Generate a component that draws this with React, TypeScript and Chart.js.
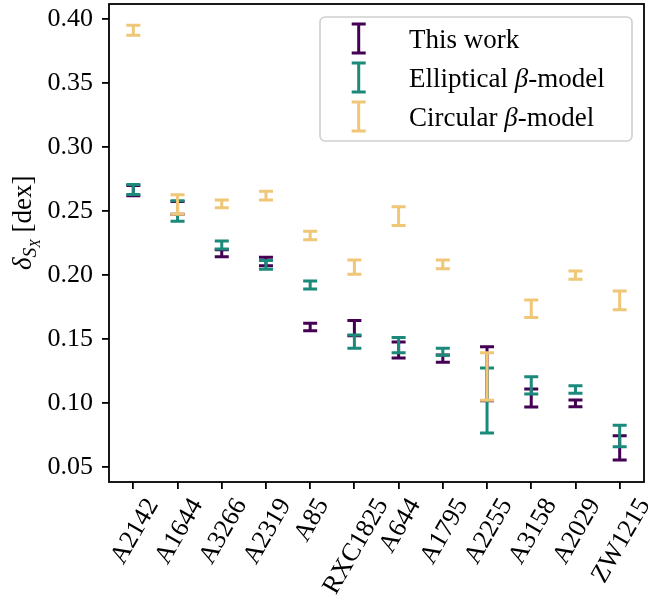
import { useEffect, useRef } from "react";
import { Chart, registerables } from "chart.js";

Chart.register(...registerables);

// ---------- data ----------
const clusters = ["A2142", "A1644", "A3266", "A2319", "A85", "RXC1825", "A644", "A1795", "A2255", "A3158", "A2029", "ZW1215"];

const thisWork = [0.266, 0.2525, 0.217, 0.2105, 0.1594, 0.1585, 0.1414, 0.1347, 0.1229, 0.1039, 0.0997, 0.065];
const thisWorkErr = [0.004, 0.005, 0.0027, 0.0033, 0.003, 0.006, 0.0063, 0.0028, 0.0211, 0.007, 0.0026, 0.0095];

const elliptical = [0.2668, 0.25, 0.2234, 0.2079, 0.1922, 0.148, 0.1452, 0.14, 0.102, 0.1138, 0.1105, 0.0742];
const ellipticalErr = [0.0039, 0.008, 0.0031, 0.0034, 0.0031, 0.0052, 0.0059, 0.0027, 0.0254, 0.0068, 0.0029, 0.0084];

const circular = [0.3912, 0.255, 0.2556, 0.262, 0.2308, 0.2061, 0.246, 0.2083, 0.1207, 0.1736, 0.1999, 0.1802];
const circularErr = [0.0039, 0.0076, 0.003, 0.0035, 0.0033, 0.0056, 0.0074, 0.0034, 0.0186, 0.0069, 0.0033, 0.0073];

const yTicks = [0.05, 0.1, 0.15, 0.2, 0.25, 0.3, 0.35, 0.4];
const seriesNames = ["This work", "Elliptical β-model", "Circular β-model"];
const seriesColors = ["#440154", "#1b8a7a", "#f0c677"];

const FONT = "'Liberation Serif', 'Times New Roman', serif";

function buildDatasets() {
  const vals = [thisWork, elliptical, circular];
  const errs = [thisWorkErr, ellipticalErr, circularErr];
  return vals.map((v, si) => ({
    label: seriesNames[si],
    data: v.map((y, i) => ({ x: i, y })),
    errors: errs[si],
    borderColor: seriesColors[si],
    backgroundColor: seriesColors[si],
    pointRadius: 0,
    showLine: false,
  }));
}

const errorBarPlugin = {
  id: "errorbars",
  afterDatasetsDraw(chart: any) {
    const { ctx, scales } = chart;
    const x = scales.x;
    const y = scales.y;
    const capHalf = 7;
    chart.data.datasets.forEach((ds: any) => {
      ctx.save();
      ctx.strokeStyle = ds.borderColor;
      ctx.lineWidth = 3;
      ctx.lineCap = "butt";
      ds.data.forEach((p: any, i: number) => {
        const e = ds.errors[i];
        const px = x.getPixelForValue(p.x);
        const top = y.getPixelForValue(p.y + e);
        const bot = y.getPixelForValue(p.y - e);
        ctx.beginPath();
        ctx.moveTo(px, top);
        ctx.lineTo(px, bot);
        ctx.moveTo(px - capHalf, top);
        ctx.lineTo(px + capHalf, top);
        ctx.moveTo(px - capHalf, bot);
        ctx.lineTo(px + capHalf, bot);
        ctx.stroke();
      });
      ctx.restore();
    });
  },
  afterDraw(chart: any) {
    const { ctx, chartArea, scales } = chart;
    const x = scales.x;
    ctx.save();
    // frame
    ctx.strokeStyle = "#000";
    ctx.lineWidth = 1.8;
    ctx.strokeRect(chartArea.left, chartArea.top, chartArea.right - chartArea.left, chartArea.bottom - chartArea.top);

    // x tick labels, rotated 60 deg, centered
    const fs = 26;
    ctx.font = `${fs}px ${FONT}`;
    ctx.fillStyle = "#000";
    ctx.textAlign = "center";
    ctx.textBaseline = "middle";
    const ang = (60 * Math.PI) / 180;
    const topY = chartArea.bottom + 7 + 7;
    clusters.forEach((lab, i) => {
      const w = ctx.measureText(lab).width;
      const h = fs * 0.68;
      const H = w * Math.sin(ang) + h * Math.cos(ang);
      const cx = x.getPixelForValue(i) + 1;
      const cy = topY + H / 2;
      ctx.save();
      ctx.translate(cx, cy);
      ctx.rotate(-ang);
      ctx.fillText(lab, 0, h * 0.05);
      ctx.restore();
    });

    // y axis label: delta_{S_X} [dex]
    ctx.save();
    const lfs = 27;
    ctx.textAlign = "left";
    ctx.textBaseline = "alphabetic";
    const parts = [
      { t: "δ", f: `italic ${lfs}px ${FONT}`, dy: 0 },
      { t: "S", f: `italic ${lfs * 0.72}px ${FONT}`, dy: 5 },
      { t: "X", f: `italic ${lfs * 0.52}px ${FONT}`, dy: 9 },
      { t: " [dex]", f: `${lfs}px ${FONT}`, dy: 0 },
    ];
    ctx.translate(31, 270);
    ctx.rotate(-Math.PI / 2);
    let off = 0;
    parts.forEach((p) => {
      ctx.font = p.f;
      ctx.fillText(p.t, off, p.dy);
      off += ctx.measureText(p.t).width;
    });
    ctx.restore();

    // legend
    const lx = 320, ly = 17, lw = 312, lh = 124;
    ctx.beginPath();
    ctx.roundRect(lx, ly, lw, lh, 5);
    ctx.fillStyle = "rgba(255,255,255,0.8)";
    ctx.fill();
    ctx.strokeStyle = "#d0d0d0";
    ctx.lineWidth = 1.6;
    ctx.stroke();
    const rows = [38.5, 77.5, 116.5];
    const iconX = 358.7;
    const textX = 409;
    const legFs = 27;
    rows.forEach((ry, si) => {
      ctx.strokeStyle = seriesColors[si];
      ctx.lineWidth = 3;
      ctx.beginPath();
      ctx.moveTo(iconX, ry - 14.5);
      ctx.lineTo(iconX, ry + 14.5);
      ctx.moveTo(iconX - 7, ry - 14.5);
      ctx.lineTo(iconX + 7, ry - 14.5);
      ctx.moveTo(iconX - 7, ry + 14.5);
      ctx.lineTo(iconX + 7, ry + 14.5);
      ctx.stroke();
      ctx.fillStyle = "#000";
      ctx.textBaseline = "alphabetic";
      ctx.textAlign = "left";
      const name = seriesNames[si];
      const bi = name.indexOf("β");
      const base = ry + 9.5;
      if (bi < 0) {
        ctx.font = `${legFs}px ${FONT}`;
        ctx.fillText(name, textX, base);
      } else {
        const segs = [
          { t: name.slice(0, bi), f: `${legFs}px ${FONT}` },
          { t: "β", f: `italic ${legFs}px ${FONT}` },
          { t: name.slice(bi + 1), f: `${legFs}px ${FONT}` },
        ];
        let ox = textX;
        segs.forEach((s) => {
          ctx.font = s.f;
          ctx.fillText(s.t, ox, base);
          ox += ctx.measureText(s.t).width;
        });
      }
    });
    ctx.restore();
  },
};

export default function App() {
  const ref = useRef<HTMLCanvasElement | null>(null);
  useEffect(() => {
    if (!ref.current) return;
    const chart = new Chart(ref.current, {
      type: "scatter",
      data: { datasets: buildDatasets() as any },
      options: {
        responsive: false,
        animation: false,
        devicePixelRatio: 1,
        layout: { padding: { top: 4, right: 4, left: 0, bottom: 0 } },
        plugins: { legend: { display: false }, tooltip: { enabled: false } },
        scales: {
          x: {
            type: "linear",
            min: -0.55,
            max: 11.55,
            afterFit: (s: any) => {
              s.height = 125;
              s.paddingLeft = 0;
              s.paddingRight = 0;
              s.paddingTop = 0;
              s.paddingBottom = 0;
            },
            afterBuildTicks: (s: any) => {
              s.ticks = clusters.map((_, i) => ({ value: i }));
            },
            ticks: { display: false, autoSkip: false, stepSize: 1, includeBounds: false },
            grid: { display: true, drawOnChartArea: false, drawTicks: true, tickLength: 7, color: "#000", lineWidth: 1.8 },
            border: { display: false },
          },
          y: {
            type: "linear",
            min: 0.40 - 463 / 1280,
            max: 0.40 + 15 / 1280,
            afterFit: (s: any) => {
              s.width = 109;
              s.paddingTop = 0;
              s.paddingBottom = 0;
              s.paddingLeft = 0;
              s.paddingRight = 0;
            },
            afterBuildTicks: (s: any) => {
              s.ticks = yTicks.map((v) => ({ value: v }));
            },
            ticks: {
              autoSkip: false,
              includeBounds: false,
              padding: 9,
              color: "#000",
              font: { family: FONT, size: 26 },
              callback: (v: any) => Number(v).toFixed(2),
            },
            grid: { display: true, drawOnChartArea: false, drawTicks: true, tickLength: 7, color: "#000", lineWidth: 1.8 },
            border: { display: false },
          },
        },
      },
      plugins: [errorBarPlugin],
    });
    return () => chart.destroy();
  }, []);
  return (
    <div style={{ position: "fixed", left: 0, top: 0, width: 648, height: 607, background: "#fff" }}>
      <canvas ref={ref} width={648} height={607} />
    </div>
  );
}
